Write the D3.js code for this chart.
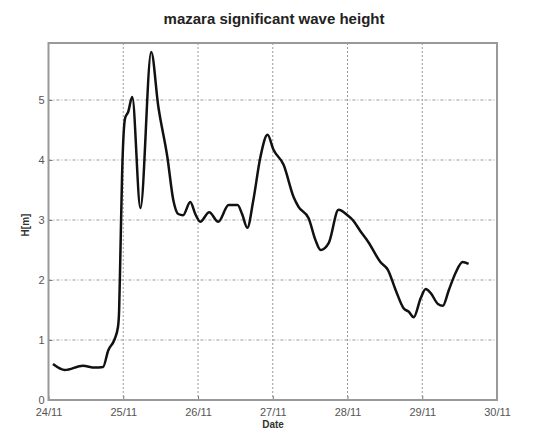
<!DOCTYPE html>
<html>
<head>
<meta charset="utf-8">
<script src="https://cdn.jsdelivr.net/npm/d3@7"></script>
<style>
  body { margin: 0; background: #fff; }
  svg { font-family: "Liberation Sans", Arial, sans-serif; }
</style>
</head>
<body>
<svg id="chart"></svg>
<script>
// days since 24/11 00:00
const days = [0.06, 0.22, 0.46, 0.62, 0.73, 0.80, 0.88, 0.93, 0.945, 0.96, 0.985,
  1.025, 1.066, 1.12, 1.23, 1.374, 1.468, 1.59, 1.67, 1.736, 1.80, 1.897, 1.964,
  2.03, 2.15, 2.27, 2.41, 2.53, 2.59, 2.66, 2.74, 2.835, 2.93, 3.01, 3.145, 3.28,
  3.345, 3.48, 3.57, 3.64, 3.75, 3.88, 4.0, 4.07, 4.18, 4.28, 4.44, 4.54, 4.645,
  4.75, 4.82, 4.886, 4.98, 5.047, 5.114, 5.21, 5.275, 5.355, 5.45, 5.54, 5.62];
const heights = [0.6, 0.5, 0.57, 0.54, 0.55, 0.83, 1.0, 1.22, 1.5, 2.33, 3.78,
  4.7, 4.8, 5.05, 3.2, 5.8, 4.9, 4.05, 3.33, 3.1, 3.08, 3.3, 3.1,
  2.97, 3.13, 2.97, 3.25, 3.25, 3.1, 2.87, 3.33, 4.05, 4.42, 4.17, 3.92, 3.38,
  3.22, 3.03, 2.67, 2.5, 2.62, 3.17, 3.08, 3.0, 2.8, 2.63, 2.3, 2.17, 1.83,
  1.53, 1.47, 1.38, 1.7, 1.85, 1.78, 1.6, 1.57, 1.83, 2.13, 2.3, 2.27];
const dayTicks = [0, 1, 2, 3, 4, 5, 6];
const dayLabels = ["24/11", "25/11", "26/11", "27/11", "28/11", "29/11", "30/11"];
const hTicks = [0, 1, 2, 3, 4, 5];

const config = {
  width: 533, height: 432,
  margin: { top: 43, right: 36, bottom: 32, left: 48.5 }
};

const svg = d3.select("#chart")
    .attr("width", config.width)
    .attr("height", config.height);

const innerW = config.width - config.margin.left - config.margin.right;
const innerH = config.height - config.margin.top - config.margin.bottom;

const chart = svg.append("g")
    .attr("transform", `translate(${config.margin.left},${config.margin.top})`);

const xScale = d3.scaleLinear().domain([0, 6]).range([0, innerW]);
const yScale = d3.scaleLinear().domain([0, 5.95]).range([innerH, 0]);

// grid
const gridColor = "#999";
chart.append("g").selectAll("line")
    .data(dayTicks.slice(1, -1))
    .join("line")
    .attr("x1", d => xScale(d)).attr("x2", d => xScale(d))
    .attr("y1", 0).attr("y2", innerH)
    .attr("stroke", gridColor).attr("stroke-width", 1)
    .attr("stroke-dasharray", "2,2");

chart.append("g").selectAll("line")
    .data(hTicks.slice(1))
    .join("line")
    .attr("x1", 0).attr("x2", innerW)
    .attr("y1", d => yScale(d)).attr("y2", d => yScale(d))
    .attr("stroke", gridColor).attr("stroke-width", 1)
    .attr("stroke-dasharray", "3,2,1,2");

// axes
const xAxis = d3.axisBottom(xScale)
    .tickValues(dayTicks)
    .tickFormat((d, i) => dayLabels[i])
    .tickSize(-4).tickPadding(8);
const yAxis = d3.axisLeft(yScale)
    .tickValues(hTicks)
    .tickFormat(d3.format("d"))
    .tickSize(-4).tickPadding(4);

const xAxisG = chart.append("g")
    .attr("transform", `translate(0,${innerH})`)
    .call(xAxis);
const yAxisG = chart.append("g").call(yAxis);

[xAxisG, yAxisG].forEach(g => {
  g.select(".domain").remove();
  g.selectAll(".tick line").attr("stroke", "#777");
  g.selectAll(".tick text")
      .attr("fill", "#555")
      .style("font-size", "11px");
});

// box
chart.append("rect")
    .attr("x", 0).attr("y", 0)
    .attr("width", innerW).attr("height", innerH)
    .attr("fill", "none")
    .attr("stroke", "#999")
    .attr("stroke-width", 2);

// series
const line = d3.line()
    .x((d, i) => xScale(days[i]))
    .y(d => yScale(d))
    .curve(d3.curveMonotoneX);

chart.append("path")
    .datum(heights)
    .attr("d", line)
    .attr("fill", "none")
    .attr("stroke", "#111")
    .attr("stroke-width", 2.5)
    .attr("stroke-linejoin", "round");

// labels
svg.append("text")
    .attr("x", 274).attr("y", 24)
    .attr("text-anchor", "middle")
    .style("font-size", "15px").style("font-weight", "bold")
    .attr("fill", "#222")
    .text("mazara significant wave height");

svg.append("text")
    .attr("transform", "translate(29,225) rotate(-90)")
    .attr("text-anchor", "middle")
    .style("font-size", "10px").style("font-weight", "bold")
    .attr("fill", "#333")
    .text("H[m]");

svg.append("text")
    .attr("x", 273).attr("y", 428)
    .attr("text-anchor", "middle")
    .style("font-size", "10px").style("font-weight", "bold")
    .attr("fill", "#333")
    .text("Date");
</script>
</body>
</html>
